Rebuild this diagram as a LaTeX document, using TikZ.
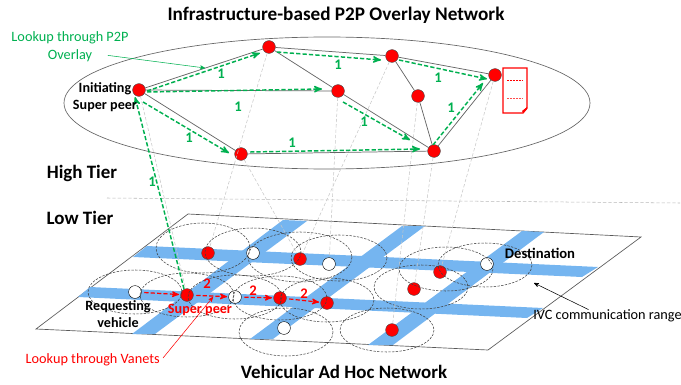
\documentclass[tikz,border=0pt]{standalone}
\usepackage{fontspec}
\setmainfont{Carlito}
\usetikzlibrary{arrows,calc}
\definecolor{roadblue}{HTML}{75B5F0}
\definecolor{lookupgreen}{HTML}{00B050}
\tikzset{
  peer/.style={circle,draw=black!70,line width=0.3pt,fill=red,inner sep=0pt,minimum size=9.6pt},
  plainpeer/.style={peer,fill=white,draw=black},
  overlaylink/.style={draw=black!60,line width=0.55pt},
  tierlink/.style={draw=black!22,line width=0.4pt,dash pattern=on 2.5pt off 1.5pt},
  greenhop/.style={->,>=stealth',draw=lookupgreen,line width=1.1pt,dash pattern=on 3.2pt off 1.6pt},
  redhop/.style={->,>=stealth',draw=red,line width=0.9pt,dash pattern=on 3.2pt off 1.6pt,shorten <=2pt,shorten >=1pt},
  ivcrange/.style={draw=black!75,line width=0.4pt,dash pattern=on 1.8pt off 1pt},
  road/.style={fill=roadblue},
  greenlabel/.style={text=lookupgreen,font=\fontsize{11}{12}\selectfont\bfseries,inner sep=0pt},
  redlabel/.style={text=red,font=\fontsize{11}{12}\selectfont\bfseries,inner sep=0pt},
  heading/.style={font=\fontsize{14.2}{15}\selectfont\bfseries,inner sep=0pt},
  tag/.style={font=\fontsize{10.6}{13.2}\selectfont\bfseries,inner sep=0pt},
  note/.style={font=\fontsize{10.7}{13.5}\selectfont,inner sep=0pt}
}
\begin{document}
\begin{tikzpicture}[x=0.75pt,y=-0.75pt]
\useasboundingbox (0,0) rectangle (681,385);

\draw[draw=black!60,line width=0.5pt] (327,103) ellipse [x radius=263,y radius=66];
\draw[draw=black!65,line width=0.5pt] (36,329) -- (188,214) -- (641,237) -- (488,350) -- cycle;
\draw[tierlink,draw=black!28] (107,198) -- (680,203);

\fill[road] (147,246) -- (598,267) -- (582,277) -- (133,257) -- cycle;
\fill[road] (90,287) -- (543,308) -- (527,318) -- (78,297) -- cycle;
\fill[road] (132,334) -- (283,220) -- (307,221) -- (155,334) -- cycle;
\fill[road] (250,339) -- (402,226) -- (425,226) -- (273,339) -- cycle;
\fill[road] (368,345) -- (522,231) -- (544,232) -- (393,345) -- cycle;

\node[peer] (a) at (139,90) {};
\node[peer] (b) at (269,47) {};
\node[peer] (c) at (338,91) {};
\node[peer] (d) at (392,56) {};
\node[peer] (e) at (418,96) {};
\node[peer] (f) at (495,75) {};
\node[peer] (g) at (241,154) {};
\node[peer] (h) at (434,151) {};

\node[peer] (r1) at (208,253) {};
\node[plainpeer] (w1) at (253,253) {};
\node[peer] (r2) at (300,259) {};
\node[plainpeer] (w2) at (329,264) {};
\node[plainpeer] (req) at (135,292) {};
\node[peer] (sp) at (187,295) {};
\node[plainpeer] (w3) at (235,297) {};
\node[peer] (r3) at (280,298) {};
\node[peer] (r4) at (327,303) {};
\node[plainpeer] (w4) at (284,328) {};
\node[peer] (r5) at (392,330) {};
\node[peer] (r6) at (414,289) {};
\node[peer] (r7) at (440,272) {};
\node[plainpeer] (dest) at (487,264) {};

\draw[ivcrange] (135,292) ellipse [x radius=47,y radius=22];
\draw[ivcrange] (187,295) ellipse [x radius=47,y radius=22];
\draw[ivcrange] (203,248) ellipse [x radius=47,y radius=25];
\draw[ivcrange] (253,252) ellipse [x radius=48,y radius=24];
\draw[ivcrange] (300,257) ellipse [x radius=52,y radius=25];
\draw[ivcrange] (339,258) ellipse [x radius=48,y radius=23];
\draw[ivcrange] (235,297) ellipse [x radius=47,y radius=22];
\draw[ivcrange] (280,298) ellipse [x radius=47,y radius=22];
\draw[ivcrange] (327,300) ellipse [x radius=47,y radius=22];
\draw[ivcrange] (286,332) ellipse [x radius=47,y radius=24];
\draw[ivcrange] (387,330) ellipse [x radius=47,y radius=22];
\draw[ivcrange] (421,287) ellipse [x radius=47,y radius=22];
\draw[ivcrange] (446,269) ellipse [x radius=47,y radius=22];
\draw[ivcrange] (485,265) ellipse [x radius=47,y radius=22];

\draw[tierlink] (a) -- (sp);
\draw[tierlink] (b) -- (r1);
\draw[tierlink] (g) -- (r2);
\draw[tierlink] (d) -- (r2);
\draw[tierlink] (c) -- (w2);
\draw[tierlink] (e) -- (r5);
\draw[tierlink] (h) -- (r6);
\draw[tierlink] (f) -- (r7);

\draw[overlaylink] (a) -- (b);
\draw[overlaylink] (a) -- (c);
\draw[overlaylink] (a) -- (g);
\draw[overlaylink] (b) -- (c);
\draw[overlaylink] (b) -- (d);
\draw[overlaylink] (c) -- (h);
\draw[overlaylink] (d) -- (f);
\draw[overlaylink] (d) -- (e);
\draw[overlaylink] (e) -- (h);
\draw[overlaylink] (f) -- (h);
\draw[overlaylink] (g) -- (h);

\draw[greenhop] ([shift={(8,1)}]a.center) -- ([shift={(-9,6)}]b.center);
\draw[greenhop] ([shift={(8,2)}]a.center) -- ([shift={(-16,-2)}]c.center);
\draw[greenhop] ([shift={(4,12)}]a.center) -- ([shift={(-12,-1)}]g.center);
\draw[greenhop] ([shift={(8,5)}]b.center) -- ([shift={(-11,4)}]d.center);
\draw[greenhop] ([shift={(7,4)}]d.center) -- ([shift={(-8,4)}]f.center);
\draw[greenhop] ([shift={(5,11)}]c.center) -- ([shift={(-24,-11)}]h.center);
\draw[greenhop] ([shift={(9,-2)}]g.center) -- ([shift={(-14,-2)}]h.center);
\draw[greenhop] ([shift={(-1,-6)}]h.center) -- ([shift={(-12,8)}]f.center);
\draw[greenhop] ([shift={(-3,-6)}]sp.center) -- ([shift={(-4,7)}]a.center);

\draw[redhop] (req) -- (sp);
\draw[redhop] (sp) -- (w3);
\draw[redhop] (w3) -- (r3);
\draw[redhop] (r3) -- (r4);

\node[greenlabel] (hop1) at (221,74) {1};
\node[greenlabel] (hop2) at (238,107) {1};
\node[greenlabel] (hop3) at (189,138) {1};
\node[greenlabel] (hop4) at (292,143) {1};
\node[greenlabel] (hop5) at (338,65) {1};
\node[greenlabel] (hop6) at (438,78) {1};
\node[greenlabel] (hop7) at (364,122) {1};
\node[greenlabel] (hop8) at (451,108) {1};
\node[greenlabel] (hop9) at (152,182) {1};
\node[redlabel] (vhop1) at (207,284) {2};
\node[redlabel] (vhop2) at (253,291) {2};
\node[redlabel] (vhop3) at (304,294) {2};

\draw[draw=red,line width=1pt,fill=white] (503,68) -- (527,68) -- (527,108) -- (523,113) -- (503,113) -- cycle;
\fill[red] (527,107) -- (527,109) -- (523,113) -- (522,111) -- cycle;
\draw[draw=red,line width=0.5pt,dash pattern=on 1.6pt off 0.6pt] (507,80) -- (523,80);
\draw[draw=red!70,line width=0.5pt,dash pattern=on 1.6pt off 0.6pt] (507,98) -- (523,98);

\node[heading,font=\fontsize{14.4}{15}\selectfont\bfseries] (overlaytitle) at (336,15) {Infrastructure-based P2P Overlay Network};
\node[heading] (hightier) at (82,173) {High Tier};
\node[heading] (lowtier) at (80,218) {Low Tier};
\node[heading] (vanettitle) at (344,372) {Vehicular Ad Hoc Network};

\node[note,text=lookupgreen,align=center] (p2pnote) at (70,47) {Lookup through P2P\\Overlay};
\coordinate (p2ptip) at (205,68);
\draw[->,>=stealth',draw=lookupgreen,line width=0.4pt] (p2pnote.south east) ++(-21,-7) -- (p2ptip);
\node[tag,align=center] (initiating) at (105,97) {Initiating\\Super peer};
\node[tag,align=center] (requesting) at (118,314) {Requesting\\vehicle};
\node[tag,text=red] (superpeer) at (200,310) {Super peer};
\node[tag,font=\fontsize{11}{13}\selectfont\bfseries] (destination) at (540,253) {Destination};

\node[note,text=red,anchor=east] (vanetnote) at (160,360) {Lookup through Vanets};
\coordinate (vanettip) at (213,297);
\draw[->,>=stealth',draw=red,line width=0.4pt] (vanetnote.east) ++(3,-2) -- (vanettip);
\node[note,anchor=west] (ivcnote) at (533,316) {IVC communication range};
\coordinate (ivctip) at (534,283);
\draw[->,>=stealth',draw=black,line width=0.4pt] (ivcnote.north) ++(-19,-0) -- (ivctip);
\end{tikzpicture}
\end{document}
